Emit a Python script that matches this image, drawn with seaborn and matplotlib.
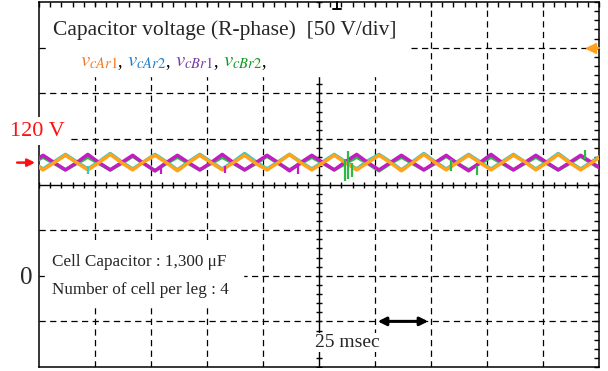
import numpy as np
import pandas as pd
import matplotlib
matplotlib.use('Agg')
import matplotlib.pyplot as plt
from matplotlib.patches import Rectangle
from matplotlib.offsetbox import TextArea, HPacker, AnnotationBbox
import seaborn as sns

# scope samples: time in ms, capacitor voltages in V
t_ms = [-3.2, 1.8, 6.8, 11.8, 16.8, 21.8, 26.8, 31.8, 36.8, 41.8, 46.8, 51.8, 56.8,
        61.8, 66.8, 71.8, 76.8, 81.8, 86.8, 91.8, 96.8, 101.8, 106.8, 111.8, 116.8,
        121.8, 126.8, 131.8, 136.8, 141.8, 146.8, 151.8, 156.8, 161.8, 166.8, 171.8,
        176.8, 181.8, 186.8, 191.8, 196.8, 201.8, 206.8, 211.8, 216.8, 221.8, 226.8,
        231.8, 236.8, 241.8, 246.8, 251.8]
v_cAr1 = [124, 116, 124, 132, 124, 116, 124, 133, 124, 116, 125, 132, 124, 115, 124, 132,
          124, 116, 124, 132, 123, 116, 124, 133, 124, 116, 124, 132, 124, 116, 124, 132,
          124, 115, 124, 133, 124, 116, 124, 132, 124, 116, 124, 132, 125, 116, 124, 133,
          124, 116, 124, 132]
v_cAr2 = [125, 117, 125, 133, 125, 117, 125, 134, 125, 117, 125, 133, 125, 116, 125, 133,
          125, 117, 125, 134, 125, 117, 125, 133, 125, 117, 125, 133, 125, 117, 126, 133,
          125, 116, 125, 134, 125, 117, 125, 133, 125, 117, 125, 133, 125, 117, 125, 134,
          125, 117, 125, 133]
v_cBr1 = [124, 132, 124, 116, 124, 133, 124, 116, 124, 132, 123, 115, 124, 132, 124, 116,
          124, 133, 124, 116, 124, 132, 124, 115, 124, 132, 124, 116, 125, 133, 124, 116,
          124, 132, 124, 116, 124, 132, 123, 115, 124, 133, 124, 116, 124, 132, 124, 116,
          124, 132, 124, 116]
v_cBr2 = [123, 130, 123, 116, 123, 130, 123, 116, 123, 131, 123, 115, 123, 130, 123, 116,
          123, 130, 123, 116, 123, 131, 123, 116, 123, 130, 123, 116, 123, 130, 123, 115,
          123, 130, 123, 116, 123, 131, 123, 116, 123, 130, 123, 116, 123, 130, 123, 116,
          123, 131, 123, 116]

# switching spikes on the traces
spike_t = [21.9, 54.5, 83.0, 115.6, 136.6, 138.0, 139.7, 184.0, 195.5, 243.8]
spike_lo = [111, 112, 113, 112, 104, 106, 108, 115, 110, 128]
spike_hi = [120, 120, 120, 120, 128, 137, 124, 128, 120, 138]
spike_series = ['v_cAr2', 'v_cBr1', 'v_cBr1', 'v_cBr1', 'v_cBr2', 'v_cBr2', 'v_cBr2',
                'v_cBr2', 'v_cBr2', 'v_cBr2']

trace_colors = {'v_cBr2': '#2db84a', 'v_cAr2': '#3cc8c8',
                'v_cBr1': '#c21cc2', 'v_cAr1': '#ffa31a'}
label_colors = ['#f47a20', '#1f7fd0', '#7a3aa8', '#109a20']
label_text = [r'$v_{cAr1}$', r'$v_{cAr2}$', r'$v_{cBr1}$', r'$v_{cBr2}$']

df = pd.concat([
    pd.DataFrame({'t': t_ms, 'v': v, 'series': name})
    for name, v in [('v_cBr2', v_cBr2), ('v_cAr2', v_cAr2),
                    ('v_cBr1', v_cBr1), ('v_cAr1', v_cAr1)]
])

sns.set_style('white')
plt.rcParams['font.family'] = ['Liberation Serif', 'DejaVu Serif']
plt.rcParams['mathtext.fontset'] = 'stix'

fig = plt.figure(figsize=(6.08, 3.71), dpi=100)
ax = fig.add_axes([39 / 608, 4 / 371, 560 / 608, 365 / 371])

# graticule
for x in range(25, 250, 25):
    if x != 125:
        ax.axvline(x, color='k', lw=0.9, ls=(0, (5, 3.5)), zorder=1)
for y in range(-50, 300, 50):
    if y != 100:
        ax.axhline(y, color='k', lw=0.9, ls=(0, (5, 3.5)), zorder=1)
ax.axvline(125, color='k', lw=1, zorder=1)
ax.axhline(100, color='k', lw=1, zorder=1)
xt = np.arange(0, 251, 5)
yt = np.arange(-100, 301, 10)
ax.plot(xt, np.full(len(xt), 100), ls='none', marker='|', ms=5, color='k', mew=1, zorder=1)
ax.plot(np.full(len(yt), 125), yt, ls='none', marker='_', ms=5, color='k', mew=1, zorder=1)

# white boxes behind annotations
ax.add_patch(Rectangle((4, 219), 161.6, 74.5, color='white', zorder=1.2))
ax.add_patch(Rectangle((2.7, -34.4), 88.3, 70, color='white', zorder=1.2))

sns.lineplot(data=df, x='t', y='v', hue='series', palette=trace_colors,
             hue_order=list(trace_colors), estimator=None, sort=False,
             lw=2.5, legend=False, ax=ax, zorder=3)
ax.vlines(spike_t, spike_lo, spike_hi, colors=[trace_colors[s] for s in spike_series],
          lw=1.6, zorder=3.5)

ax.set_xlim(0, 250)
ax.set_ylim(-100, 300)
ax.set_xticks(xt)
ax.set_yticks(yt)
ax.set_axisbelow(False)
ax.tick_params(direction='in', length=3.5, width=1, top=True, right=True,
               labelbottom=False, labelleft=False, color='k')
ax.set_xlabel('')
ax.set_ylabel('')
for s in ax.spines.values():
    s.set_visible(True)
    s.set_color('k')
    s.set_linewidth(1.1)

# trigger markers
ax.plot([133, 133], [300, 292], color='k', lw=1.4, clip_on=False, zorder=6)
ax.plot([131.2, 134.8], [292, 292], color='k', lw=1.4, clip_on=False, zorder=6)
ax.plot([246.5], [250], marker='<', ms=7, color='#ff9f1a', clip_on=False, zorder=6)
ax.plot([246.5, 250], [250, 250], color='#ff9f1a', lw=1.5, clip_on=False, zorder=6)

# texts
ax.text(6.25, 263.8, 'Capacitor voltage (R-phase)  [50 V/div]', fontsize=15.5,
        va='baseline', ha='left', zorder=5)

parts = []
for s, c in zip(label_text, label_colors):
    parts.append(TextArea(s, textprops=dict(color=c, fontsize=15)))
    parts.append(TextArea(', ', textprops=dict(color='k', fontsize=13)))
legend_row = HPacker(children=parts, align='baseline', pad=0, sep=0)
ax.add_artist(AnnotationBbox(legend_row, (18.3, 234.5), box_alignment=(0, 0.5),
                             frameon=False, pad=0, zorder=5))

ax.text(5.8, 15, 'Cell Capacitor : 1,300 \u03bcF', fontsize=12.3, va='center', zorder=5)
ax.text(5.8, -16, 'Number of cell per leg : 4', fontsize=12.3, va='center', zorder=5)
ax.text(-5.8, -2, '0', fontsize=18, ha='center', va='center', zorder=5)

ax.text(-12.9, 158.6, '120 V', fontsize=16, color='#ff1010', ha='left', va='center',
        zorder=6, clip_on=False,
        bbox=dict(facecolor='white', edgecolor='none', pad=3))
ax.annotate('', xy=(-0.5, 124), xytext=(-11, 124), annotation_clip=False,
            arrowprops=dict(arrowstyle='-|>', color='#ff1010', lw=1.8,
                            mutation_scale=11), zorder=6)

ax.annotate('', xy=(175, -50), xytext=(150, -50),
            arrowprops=dict(arrowstyle='<|-|>', color='k', lw=2.2, mutation_scale=12),
            zorder=6)
ax.text(137.5, -73, '25 msec', fontsize=14, ha='center', va='center', zorder=5,
        bbox=dict(facecolor='white', edgecolor='none', pad=1))

fig.savefig('out.png', dpi=100)
